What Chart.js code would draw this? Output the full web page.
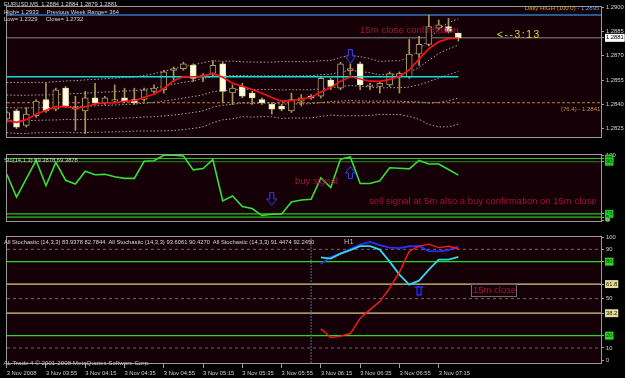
<!DOCTYPE html>
<html>
<head>
<meta charset="utf-8">
<script src="https://cdn.jsdelivr.net/npm/chart.js@4.4.1/dist/chart.umd.min.js"></script>
<style>
html,body{margin:0;padding:0;background:#000;overflow:hidden;}
#wrap{position:relative;width:625px;height:378px;background:#000;overflow:hidden;}
#wrap canvas{position:absolute;left:0;top:0;}
.t{position:absolute;white-space:pre;font-family:"Liberation Sans",Arial,sans-serif;line-height:1;margin:0;}
.s{font-size:5.8px;color:#d4d4d4;}
.r{font-size:9.5px;color:#a0143c;}
</style>
</head>
<body>
<div id="wrap">
  <canvas id="cMain" width="625" height="378"></canvas>
  <canvas id="cSto" width="625" height="378"></canvas>
  <canvas id="cAll" width="625" height="378"></canvas>

  <div class="t s" style="left:4px;top:2.1px">EURUSD,M5  1.2884 1.2884 1.2879 1.2881</div>
  <div class="t s" style="left:4px;top:9.8px">High= 1.2933</div>
  <div class="t s" style="left:46.7px;top:9.8px">Previous Week Range= 364</div>
  <div class="t s" style="left:4px;top:17.4px">Low= 1.2329</div>
  <div class="t s" style="left:45.7px;top:17.4px">Close= 1.2732</div>
  <div class="t" style="left:525px;top:4.8px;font-size:6px;color:#c8a040">Daily HIGH (100.0) - <span style="color:#5aa0e0">1.2895</span></div>
  <div class="t" style="left:561px;top:106.2px;font-size:6px;color:#c89040">(76.4) - 1.2841</div>
  <div class="t" style="left:497px;top:29.7px;font-size:10.2px;letter-spacing:1.6px;color:#dcdc2a">&lt;--3:13</div>
  <div class="t r" style="left:360px;top:25.4px;font-size:9.6px">15m close confirmation</div>

  <div class="t s" style="left:4px;top:157.6px">Sto(14,1,3) 69.3878 69.3878</div>
  <div class="t r" style="left:295px;top:176px">buy signal</div>
  <div class="t r" style="left:369px;top:195.5px">sell signal at 5m also a buy confirmation on 15m close</div>

  <div class="t s" style="left:4px;top:240.4px">All Stochastic (14,3,3) 83.9378 82.7844  All Stochastic (14,3,3) 93.6061 90.4270  All Stochastic (14,3,3) 91.4474 92.2450</div>
  <div class="t" style="left:344px;top:238px;font-size:7.5px;color:#b8b8b8">H1</div>
  <div class="t" style="left:471px;top:284px;width:44px;height:10.5px;border:1px solid #6c6c6c"></div>
  <div class="t r" style="left:473px;top:285px">15m close</div>
  <div class="t" style="left:3.5px;top:359.6px;font-size:6.2px;color:#c4c4c4">AL Trade 4 © 2001-2008 MetaQuotes Software Corp.</div>
</div>

<script>
// ================= DATA =================
// 5-minute bars, 3 Nov 2008 03:35 .. 07:25 (index 0..46)
const opens  = [1.2831,1.2836,1.2827,1.2833,1.2843,1.2837,1.2850,1.2838,1.2836,1.2844,1.2841,1.2842,1.2844,1.2843,1.2843,1.2848,1.2849,1.2861,1.2862,1.2864,1.2857,1.2859,1.2865,1.2847,1.2851,1.2847,1.2843,1.2840,1.2839,1.2836,1.2842,1.2845,1.2845,1.2855,1.2850,1.2861,1.2865,1.2851,1.2851,1.2852,1.2857,1.2857,1.2871,1.2877,1.2887,1.2888,1.2884];
const highs  = [1.2836,1.2837,1.2838,1.2843,1.2853,1.2850,1.2851,1.2845,1.2848,1.2853,1.2845,1.2852,1.2850,1.2850,1.2850,1.2852,1.2861,1.2863,1.2866,1.2865,1.2859,1.2867,1.2866,1.2852,1.2853,1.2848,1.2844,1.2841,1.2840,1.2847,1.2846,1.2846,1.2857,1.2856,1.2866,1.2865,1.2866,1.2853,1.2854,1.2860,1.2860,1.2880,1.2882,1.2895,1.2892,1.2893,1.2884];
const lows   = [1.2829,1.2825,1.2826,1.2832,1.2835,1.2836,1.2838,1.2824,1.2822,1.2840,1.2840,1.2841,1.2841,1.2840,1.2842,1.2847,1.2847,1.2854,1.2861,1.2854,1.2854,1.2857,1.2841,1.2840,1.2844,1.2840,1.2840,1.2834,1.2836,1.2835,1.2839,1.2843,1.2844,1.2849,1.2849,1.2858,1.2849,1.2849,1.2847,1.2851,1.2847,1.2856,1.2864,1.2876,1.2886,1.2884,1.2879];
const closes = [1.2835,1.2826,1.2834,1.2842,1.2836,1.2849,1.2839,1.2837,1.2844,1.2841,1.2844,1.2843,1.2842,1.2841,1.2849,1.2850,1.2860,1.2862,1.2865,1.2856,1.2858,1.2864,1.2848,1.2850,1.2845,1.2844,1.2841,1.2837,1.2837,1.2843,1.2844,1.2844,1.2856,1.2851,1.2865,1.2862,1.2852,1.2852,1.2853,1.2859,1.2859,1.2871,1.2877,1.2888,1.2889,1.2885,1.2881];
// red moving average
const maValues = [1.28300,1.28289,1.28306,1.28340,1.28364,1.28386,1.28387,1.28375,1.28386,1.28402,1.28410,1.28411,1.28419,1.28423,1.28444,1.28463,1.28498,1.28546,1.28572,1.28570,1.28574,1.28591,1.28567,1.28530,1.28512,1.28491,1.28468,1.28442,1.28420,1.28423,1.28432,1.28444,1.28476,1.28503,1.28543,1.28570,1.28556,1.28543,1.28542,1.28554,1.28572,1.28612,1.28679,1.28743,1.28786,1.28805,1.28809];
// dotted bands (two upper, middle, two lower)
const bbUpper2 = [1.28535,1.28535,1.28535,1.28536,1.28535,1.28540,1.28544,1.28546,1.28551,1.28554,1.28558,1.28562,1.28566,1.28568,1.28578,1.28589,1.28604,1.28619,1.28633,1.28643,1.28657,1.28669,1.28665,1.28667,1.28662,1.28661,1.28660,1.28660,1.28664,1.28663,1.28663,1.28663,1.28669,1.28670,1.28690,1.28702,1.28694,1.28682,1.28664,1.28668,1.28669,1.28687,1.28734,1.28804,1.28863,1.28903,1.28927];
const bbUpper1 = [1.28458,1.28456,1.28456,1.28458,1.28458,1.28461,1.28465,1.28466,1.28469,1.28473,1.28476,1.28479,1.28482,1.28485,1.28492,1.28500,1.28512,1.28524,1.28536,1.28545,1.28558,1.28574,1.28575,1.28578,1.28578,1.28576,1.28576,1.28576,1.28576,1.28576,1.28576,1.28577,1.28583,1.28586,1.28600,1.28609,1.28603,1.28595,1.28582,1.28585,1.28586,1.28597,1.28628,1.28672,1.28713,1.28743,1.28765];
const bbMiddle = [1.28380,1.28378,1.28378,1.28380,1.28380,1.28383,1.28386,1.28386,1.28388,1.28391,1.28394,1.28396,1.28399,1.28402,1.28407,1.28412,1.28420,1.28429,1.28439,1.28448,1.28459,1.28478,1.28485,1.28489,1.28494,1.28491,1.28492,1.28492,1.28489,1.28490,1.28490,1.28490,1.28497,1.28502,1.28510,1.28516,1.28512,1.28507,1.28501,1.28503,1.28503,1.28507,1.28521,1.28540,1.28562,1.28583,1.28603];
const bbLower1 = [1.28303,1.28299,1.28299,1.28302,1.28303,1.28304,1.28307,1.28306,1.28307,1.28309,1.28311,1.28314,1.28316,1.28318,1.28322,1.28324,1.28329,1.28334,1.28342,1.28350,1.28360,1.28383,1.28395,1.28400,1.28409,1.28406,1.28408,1.28408,1.28401,1.28403,1.28403,1.28404,1.28411,1.28418,1.28420,1.28423,1.28421,1.28420,1.28420,1.28420,1.28420,1.28416,1.28415,1.28408,1.28412,1.28422,1.28440];
const bbLower2 = [1.28226,1.28221,1.28221,1.28225,1.28226,1.28226,1.28228,1.28225,1.28226,1.28228,1.28229,1.28231,1.28232,1.28235,1.28236,1.28236,1.28237,1.28239,1.28245,1.28252,1.28261,1.28287,1.28305,1.28311,1.28325,1.28321,1.28324,1.28324,1.28313,1.28316,1.28316,1.28317,1.28325,1.28334,1.28330,1.28330,1.28330,1.28332,1.28338,1.28337,1.28337,1.28326,1.28308,1.28276,1.28261,1.28262,1.28278];
// price levels
const dailyHigh = 1.2895;
const lastPrice = 1.2881;
const cyanLevel = 1.2857;
const fib764Level = 1.2841;
const priceTickValues = [1.2900, 1.2885, 1.2870, 1.2855, 1.2840, 1.2825];

// Stochastic (14,1,3)
const stochValues = [71.2,35.7,64.1,92.0,53.2,89.1,61.6,55.7,75.4,70.0,70.7,67.0,64.5,64.5,90.8,91.6,100,100,98.8,77.5,79.5,93.3,29.9,37.4,21.2,18.2,7.4,9.4,9.9,28.2,31.2,32.4,65.3,50.3,94.1,97.5,56.6,56.6,60.7,80.7,80.0,79.1,92.0,86.6,86.6,78.2,69.39];
const stochLevels = [95, 90, 10, 5];
const stochTickValues = [100, 95, 90, 10, 5, 0];

// All Stochastic (14,3,3) - higher timeframe lines, from bar index 32
const allStartIdx = 32;
const allStochCyan = [83.5,82.5,86.5,89.4,92.6,92.6,89.8,80.0,69.5,61.4,64.6,73.6,81.7,81.7,83.94];
const allStochBlue = [78.2,83.7,86.5,90.2,93.8,96.0,93.4,91.4,91.0,92.5,92.6,88.6,88.4,89.4,92.25];
const allStochRed  = [25.5,18.4,19.6,21.7,34.2,41.1,47.6,58.5,71.5,88.5,92.6,94.2,91.4,92.5,90.43];
const allGreenLevels = [80, 20];
const allFibLevels = [61.8, 38.2];
const allGridLevels = [90, 50, 10];
const allTickValues = [100, 90, 80, 61.8, 50, 38.2, 20, 10, 0];
const separatorIdx = 31;

// time axis
const timeTickIdx = [0, 4, 8, 12, 16, 20, 24, 28, 32, 36, 40, 44];
const timeTickLabels = ['3 Nov 2008','3 Nov 03:55','3 Nov 04:15','3 Nov 04:35','3 Nov 04:55','3 Nov 05:15','3 Nov 05:35','3 Nov 05:55','3 Nov 06:15','3 Nov 06:35','3 Nov 06:55','3 Nov 07:15'];

// arrow markers
const priceArrowsDown = [{i: 35, v: 1.28695}];
const stochArrowsDown = [{i: 27, v: 33.2}];
const stochArrowsUp   = [{i: 35, v: 73.5}];
const allArrowsUp     = [{i: 42, v: 56.2}];

// ================= STYLE =================
const X_MIN = 0.03, X_MAX = 60.53;
const PLOT_BG = '#140006';
const BORDER = '#9a9a9a';
const WICK = '#a09a58';
const BULL_EDGE = '#a8a05c';
const BEAR_FILL = '#ffffe6';
const BEAR_EDGE = '#e6e0a8';
const BAND = '#a4a4a4';

Chart.defaults.font.family = "'Liberation Sans', Arial, sans-serif";
Chart.defaults.font.size = 5.8;
Chart.defaults.color = '#d4d4d4';

function makeArrow(dir, w, h, color) {
  const c = document.createElement('canvas');
  c.width = w; c.height = h;
  const g = c.getContext('2d');
  const sw = Math.max(3, Math.round(w * 0.45));
  const sx = Math.round((w - sw) / 2);
  const headH = Math.round(h * 0.5);
  const pts = [[sx + 0.5, 0.5], [sx + sw - 0.5, 0.5], [sx + sw - 0.5, h - headH], [w - 0.5, h - headH], [w / 2, h - 0.5], [0.5, h - headH], [sx + 0.5, h - headH]];
  g.beginPath();
  pts.forEach((p, k) => {
    const y = dir === 'down' ? p[1] : h - p[1];
    if (k === 0) g.moveTo(p[0], y); else g.lineTo(p[0], y);
  });
  g.closePath();
  g.fillStyle = PLOT_BG; g.fill();
  g.strokeStyle = color; g.lineWidth = 1; g.stroke();
  return c;
}
function makeTee(w, h, color) {
  const c = document.createElement('canvas');
  c.width = w; c.height = h;
  const g = c.getContext('2d');
  g.strokeStyle = color; g.lineWidth = 1.4;
  g.beginPath();
  g.moveTo(0.5, 1); g.lineTo(w - 0.5, 1);
  g.moveTo(3, 1); g.lineTo(3, h - 1); g.lineTo(w - 3, h - 1); g.lineTo(w - 3, 1);
  g.stroke();
  return c;
}
const arrowDownMain = makeArrow('down', 11, 15, '#3a40ff');
const arrowDownSto = makeArrow('down', 11, 14, '#3a40ff');
const arrowUpSto = makeArrow('up', 11, 13, '#3a40ff');
const teeAll = makeTee(10, 10, '#2030ff');

const panelPlugin = {
  id: 'panel',
  beforeDraw(chart) {
    const { ctx, chartArea: a } = chart;
    ctx.save();
    ctx.fillStyle = PLOT_BG;
    ctx.fillRect(a.left, a.top, a.right - a.left, a.bottom - a.top);
    ctx.restore();
  },
  afterDraw(chart) {
    const { ctx, chartArea: a } = chart;
    ctx.save();
    ctx.strokeStyle = BORDER;
    ctx.lineWidth = 1;
    ctx.strokeRect(a.left - 0.5, a.top - 0.5, a.right - a.left + 1, a.bottom - a.top + 1);
    ctx.restore();
  }
};

function xScale(show) {
  return {
    type: 'linear', min: X_MIN, max: X_MAX, offset: false, display: show,
    grid: { display: show, drawOnChartArea: false, drawTicks: true, tickLength: 5, color: '#a0a0a0', offset: false },
    border: { display: false },
    ticks: { align: 'start', padding: 2, autoSkip: false, maxRotation: 0, minRotation: 0, color: '#d0d0d0',
             callback: (v, idx) => timeTickLabels[idx] },
    afterBuildTicks: s => { s.ticks = timeTickIdx.map(v => ({ value: v })); },
    afterFit: s => { s.height = 15; s.paddingLeft = 0; s.paddingRight = 0; }
  };
}
function yScale(min, max, tickValues, fmt, boxColor, textColor) {
  return {
    type: 'linear', position: 'right', min, max,
    grid: { drawOnChartArea: false, drawTicks: true, tickLength: 3, color: '#a0a0a0' },
    border: { display: false },
    ticks: {
      padding: 2, autoSkip: false, showLabelBackdrop: true,
      backdropPadding: { left: 1, right: 1, top: 0.5, bottom: 0.5 },
      backdropColor: ctx => boxColor(ctx.tick.value) || 'rgba(0,0,0,0)',
      color: ctx => textColor(ctx.tick.value),
      callback: v => fmt(v)
    },
    afterBuildTicks: s => { s.ticks = tickValues.map(v => ({ value: v })); },
    afterFit: s => { s.width = 24; s.paddingTop = 0; s.paddingBottom = 0; }
  };
}
function hLine(level, color, width, dash, x0, x1) {
  return { type: 'line', data: [{ x: x0 === undefined ? X_MIN : x0, y: level }, { x: x1 === undefined ? X_MAX : x1, y: level }],
           borderColor: color, borderWidth: width, borderDash: dash || [], pointRadius: 0, fill: false };
}
function series(arr, color, width, dash) {
  return { type: 'line', data: arr.map((v, i) => ({ x: i, y: v })), borderColor: color, borderWidth: width,
           borderDash: dash || [], pointRadius: 0, tension: 0, fill: false };
}
function markers(list, img) {
  return { type: 'line', showLine: false, data: list.map(m => ({ x: m.i, y: m.v })),
           pointStyle: img, pointRadius: 6 };
}
function baseOptions(padding, ys, showX) {
  return {
    responsive: false, animation: false, devicePixelRatio: 1, events: [],
    layout: { padding },
    plugins: { legend: { display: false }, tooltip: { enabled: false } },
    scales: { x: xScale(showX), y: ys }
  };
}

// ================= MAIN PRICE CHART =================
const isBear = i => closes[i] < opens[i];
new Chart(document.getElementById('cMain'), {
  type: 'line',
  data: {
    datasets: [
      markers(priceArrowsDown, arrowDownMain),
      series(maValues, '#ff1010', 1.6),
      hLine(cyanLevel, '#10e0e0', 1.5, null, X_MIN, opens.length - 1),
      { type: 'bar', grouped: false, barThickness: 6, borderSkipped: false, borderWidth: 1,
        data: opens.map((o, i) => ({ x: i, y: [o, closes[i]] })),
        backgroundColor: ctx => isBear(ctx.dataIndex) ? BEAR_FILL : PLOT_BG,
        borderColor: ctx => isBear(ctx.dataIndex) ? BEAR_EDGE : BULL_EDGE },
      { type: 'bar', grouped: false, barThickness: 1, borderWidth: 0,
        data: lows.map((l, i) => ({ x: i, y: [l, highs[i]] })), backgroundColor: WICK },
      series(bbUpper2, BAND, 1, [1.5, 2]),
      series(bbUpper1, BAND, 1, [1.5, 2]),
      series(bbMiddle, BAND, 1, [1.5, 2]),
      series(bbLower1, BAND, 1, [1.5, 2]),
      series(bbLower2, BAND, 1, [1.5, 2]),
      hLine(lastPrice, '#8a8a8a', 1),
      hLine(dailyHigh, '#2a78c0', 1.5),
      hLine(fib764Level, '#d87818', 1, [3, 2])
    ]
  },
  options: baseOptions({ left: 2, top: 2, right: 0, bottom: 226 },
    yScale(1.28199, 1.2900, [...priceTickValues, lastPrice], v => v.toFixed(4),
      v => v === lastPrice ? '#ffffff' : null,
      v => v === lastPrice ? '#000000' : '#d4d4d4'), false),
  plugins: [panelPlugin]
});

// ================= STOCHASTIC PANEL =================
new Chart(document.getElementById('cSto'), {
  type: 'line',
  data: {
    datasets: [
      markers(stochArrowsDown, arrowDownSto),
      markers(stochArrowsUp, arrowUpSto),
      series(stochValues, '#36e036', 1.6),
      ...stochLevels.map((lv, k) => hLine(lv, k === 1 ? '#1f8f1f' : '#22c822', 1.2))
    ]
  },
  options: baseOptions({ left: 2, top: 155, right: 0, bottom: 142 },
    yScale(-1, 100.4, stochTickValues, v => String(v),
      v => stochLevels.includes(v) ? '#22c822' : null,
      v => stochLevels.includes(v) ? '#0a3a0a' : '#d4d4d4'), false),
  plugins: [panelPlugin]
});

// ================= ALL STOCHASTIC PANEL =================
const hiData = arr => arr.map((v, k) => ({ x: allStartIdx + k, y: v }));
new Chart(document.getElementById('cAll'), {
  type: 'line',
  data: {
    datasets: [
      markers(allArrowsUp, teeAll),
      { type: 'line', data: hiData(allStochRed), borderColor: '#ff1a1a', borderWidth: 1.4, pointRadius: 0, fill: false },
      { type: 'line', data: hiData(allStochCyan), borderColor: '#30d8ec', borderWidth: 1.8, pointRadius: 0, fill: false },
      { type: 'line', data: hiData(allStochBlue), borderColor: '#2830ff', borderWidth: 1.8, pointRadius: 0, fill: false },
      { type: 'line', data: [{ x: separatorIdx, y: -2.2 }, { x: separatorIdx, y: 100 }], borderColor: '#5a7088', borderWidth: 1, borderDash: [2, 1], pointRadius: 0 },
      ...allGreenLevels.map(lv => hLine(lv, '#22dd22', 1.2)),
      ...allFibLevels.map(lv => hLine(lv, '#d8d088', 1.2)),
      ...allGridLevels.map(lv => hLine(lv, '#6a6a6a', 1, [3, 3]))
    ]
  },
  options: baseOptions({ left: 2, top: 237, right: 0, bottom: 0 },
    yScale(-2.2, 100, allTickValues, v => String(v),
      v => allGreenLevels.includes(v) ? '#22dd22' : (allFibLevels.includes(v) ? '#e4dc9c' : null),
      v => (allGreenLevels.includes(v) || allFibLevels.includes(v)) ? '#202000' : '#d4d4d4'), true),
  plugins: [panelPlugin]
});
</script>
</body>
</html>
